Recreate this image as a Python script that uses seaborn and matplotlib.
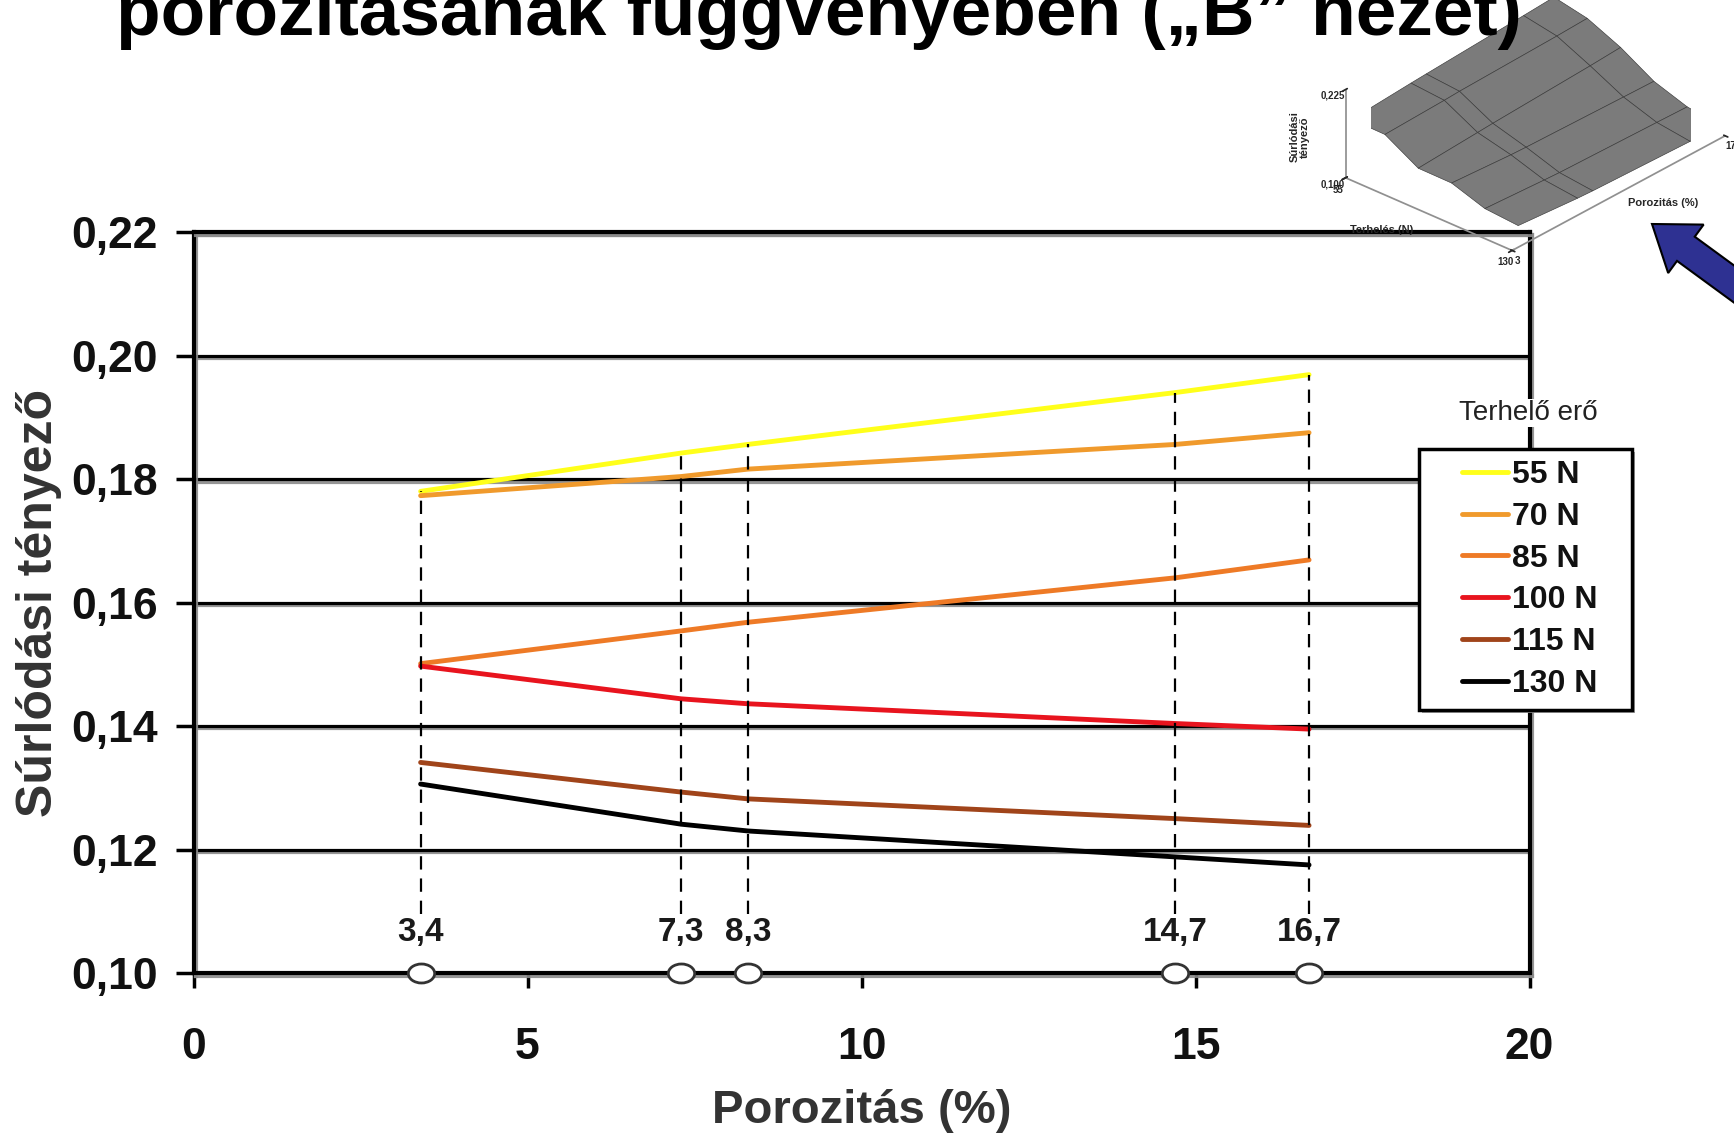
import numpy as np
import pandas as pd
import matplotlib
matplotlib.use("Agg")
import matplotlib.pyplot as plt
import matplotlib.patheffects as pe
from matplotlib.path import Path
from matplotlib.transforms import Affine2D
from matplotlib.patches import Rectangle, FancyArrow
from matplotlib.ticker import FuncFormatter, FixedLocator
import seaborn as sns

# ---- data -------------------------------------------------------------
porosity = [3.4, 7.3, 8.3, 14.7, 16.7]
porosity_labels = ["3,4", "7,3", "8,3", "14,7", "16,7"]
loads = ["55 N", "70 N", "85 N", "100 N", "115 N", "130 N"]
load_values = [55, 70, 85, 100, 115, 130]
mu_55 = [0.1780, 0.1842, 0.1856, 0.1940, 0.1969]
mu_70 = [0.1773, 0.1804, 0.1816, 0.1856, 0.1875]
mu_85 = [0.1501, 0.1554, 0.1568, 0.1640, 0.1669]
mu_100 = [0.1497, 0.1444, 0.1436, 0.1404, 0.1395]
mu_115 = [0.1341, 0.1293, 0.1282, 0.1250, 0.1239]
mu_130 = [0.1306, 0.1241, 0.1230, 0.1188, 0.1175]
series = [mu_55, mu_70, mu_85, mu_100, mu_115, mu_130]
line_colors = ["#FFFF1A", "#F09A2C", "#EE7A26", "#E8141E", "#A0441A", "#000000"]
y_ticks = [0.10, 0.12, 0.14, 0.16, 0.18, 0.20, 0.22]
x_ticks = [0, 5, 10, 15, 20]
inset_z_ticks = [0.100, 0.225]

df = pd.DataFrame({
    "Porozitás": np.tile(porosity, len(loads)),
    "Súrlódási tényező": np.concatenate(series),
    "Terhelő erő": np.repeat(loads, len(porosity)),
})

# ---- style ------------------------------------------------------------
sns.set_theme(style="white")
plt.rcParams["font.family"] = ["Liberation Sans", "DejaVu Sans"]
plt.rcParams["font.weight"] = "bold"

W, H = 1734, 1142
fig = plt.figure(figsize=(W / 100, H / 100), dpi=100)
fig.patch.set_facecolor("white")

ax = fig.add_axes([193.5 / W, 1 - 973 / H, 1336 / W, 741 / H])
ax.set_facecolor("white")

shadow = [pe.SimpleLineShadow(offset=(1.5, -1.8), shadow_color="#8a8a8a", alpha=0.9), pe.Normal()]

sns.lineplot(data=df, x="Porozitás", y="Súrlódási tényező", hue="Terhelő erő",
             hue_order=loads, palette=dict(zip(loads, line_colors)),
             linewidth=3.5, estimator=None, sort=False, legend=False, ax=ax, zorder=4)
handles = list(ax.lines)

ax.set_xlim(0, 20)
ax.set_ylim(0.10, 0.22)
ax.xaxis.set_major_locator(FixedLocator(x_ticks))
ax.yaxis.set_major_locator(FixedLocator(y_ticks))
ax.yaxis.set_major_formatter(FuncFormatter(lambda v, _: f"{v:.2f}".replace(".", ",")))
ax.xaxis.set_major_formatter(FuncFormatter(lambda v, _: f"{v:.0f}"))

ax.yaxis.grid(True, color="black", linewidth=2.3)
ax.xaxis.grid(False)
for gl in ax.get_ygridlines():
    gl.set_path_effects(shadow)

for side in ["left", "right", "top", "bottom"]:
    ax.spines[side].set_visible(True)
    ax.spines[side].set_color("black")
    ax.spines[side].set_linewidth(3)
    ax.spines[side].set_path_effects(shadow)

ax.tick_params(axis="y", direction="out", length=13, width=2.5, pad=13,
               labelsize=32, colors="black", left=True)
ax.tick_params(axis="x", direction="out", length=11, width=2.5, pad=28,
               labelsize=32, colors="black", bottom=True)
for t in ax.get_xticklabels() + ax.get_yticklabels():
    t.set_color("#111111")

ax.set_xlabel("Porozitás (%)", fontsize=34, fontweight="bold", color="#333333")
ax.xaxis.set_label_coords(0.5, -0.186)
ax.xaxis.label.set_va("center")
ax.set_ylabel("Súrlódási tényező", fontsize=36, fontweight="bold", color="#333333")
ax.yaxis.set_label_coords(-0.1156, 0.5)
ax.yaxis.label.set_va("center")

# dashed guides from the highest curve down to the value labels
tops = np.max(np.array(series), axis=0)
for x, top, lab in zip(porosity, tops, porosity_labels):
    ax.plot([x, x], [0.1095, top], color="black", lw=1.6, ls=(0, (6, 4)), zorder=5)
    ax.text(x, 0.1066, lab, ha="center", va="center", fontsize=24,
            fontweight="bold", color="#1a1a1a", zorder=6)

ellipse = Affine2D().scale(1.0, 0.72).transform_path(Path.unit_circle())
ax.plot(porosity, [0.10] * len(porosity), ls="none", marker=ellipse, ms=19,
        mfc="white", mec="#333333", mew=2, clip_on=False, zorder=7)

# ---- legend -----------------------------------------------------------
fig.add_artist(Rectangle((1419 / W, 1 - 710 / H), 213 / W, 261 / H,
                         transform=fig.transFigure, facecolor="white",
                         edgecolor="black", lw=2.5, zorder=3,
                         path_effects=[pe.SimplePatchShadow(offset=(2, -2), shadow_rgbFace="#999999", alpha=0.9), pe.Normal()]))
leg = fig.legend(handles, loads, loc="upper left",
                 bbox_to_anchor=(1462 / W, 1 - 460 / H), frameon=False,
                 fontsize=23, handlelength=1.45, handletextpad=0.1,
                 labelspacing=0.37, borderpad=0, borderaxespad=0)
leg.set_zorder(6)
for t in leg.get_texts():
    t.set_fontweight("bold")
    t.set_color("#111111")
fig.text(1528 / W, 1 - 413 / H, "Terhelő erő", ha="center", va="center",
         fontsize=20, fontweight="normal", color="#222222", zorder=4,
         bbox=dict(facecolor="white", edgecolor="none", pad=1))

# ---- title line -------------------------------------------------------
fig.text(116 / W, 1 - 35 / H, "porozitásának függvényében („B” nézet)",
         ha="left", va="baseline", fontsize=52.5, fontweight="bold", color="black")

# ---- 3D surface inset ---------------------------------------------------
ax3 = fig.add_axes([1271 / W, 1 - 277 / H, 520 / W, 320 / H],
                   projection="3d", proj_type="ortho")
ax3.patch.set_alpha(0)
ax3.set_facecolor((1, 1, 1, 0))
L, P = np.meshgrid(load_values, porosity, indexing="ij")
Z = np.array(series)
ax3.plot_surface(L, P, Z, color="#e6e6e6", edgecolor="#3a3a3a", linewidth=0.45,
                 shade=True, antialiased=True)
ax3.set_xlim(55, 130)
ax3.set_ylim(3, 17)
ax3.set_zlim(inset_z_ticks[0], inset_z_ticks[-1])
ax3.view_init(elev=29, azim=-48)
ax3.set_box_aspect((1, 1.42, 0.45), zoom=1.22)
ax3.set_xticks([55, 130])
ax3.set_yticks([3, 17])
ax3.set_zticks(inset_z_ticks)
ax3.set_xticklabels(["55", "130"], fontsize=7)
ax3.set_yticklabels(["3", "17"], fontsize=7)
ax3.set_zticklabels([f"{v:.3f}".replace(".", ",") for v in inset_z_ticks], fontsize=7)
ax3.zaxis.set_ticks_position("lower")
ax3.zaxis.set_label_position("lower")
ax3.grid(False)
for axis in (ax3.xaxis, ax3.yaxis, ax3.zaxis):
    axis.set_pane_color((1, 1, 1, 0))
    axis.pane.set_edgecolor("#a0a0a0")
    axis.line.set_color("#909090")
ax3.set_xlabel("")
ax3.set_ylabel("")
ax3.set_zlabel("")
ax3.tick_params(pad=-4)

fig.text(1382 / W, 1 - 230 / H, "Terhelés (N)", ha="center", va="center", fontsize=8)
fig.text(1663 / W, 1 - 203 / H, "Porozitás (%)", ha="center", va="center", fontsize=8)
fig.text(1300 / W, 1 - 137 / H, "Súrlódási\ntényező", ha="center", va="center",
         fontsize=8, rotation=90, linespacing=1.0)

# ---- pointer arrow ------------------------------------------------------
fig.add_artist(FancyArrow(17.90, 8.17, -1.38, 1.01, width=0.30, head_width=0.60,
                          head_length=0.42, length_includes_head=True,
                          transform=fig.dpi_scale_trans, facecolor="#2E3192",
                          edgecolor="black", lw=1.5, zorder=8))

fig.savefig("out.png", dpi=100, facecolor="white")
